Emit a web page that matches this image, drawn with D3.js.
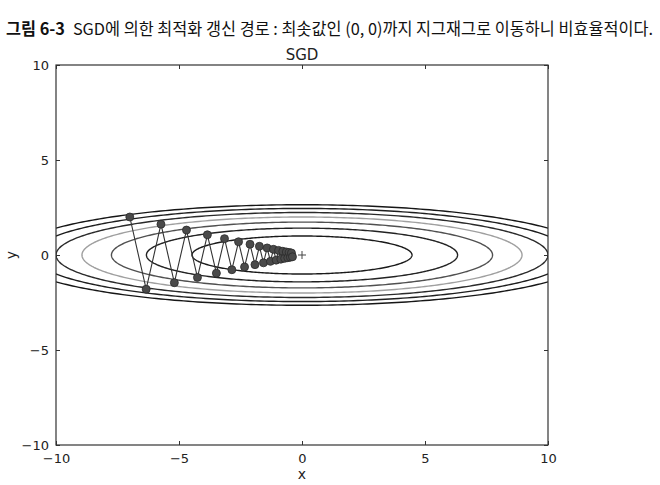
<!DOCTYPE html>
<html>
<head>
<meta charset="utf-8">
<script src="https://cdn.jsdelivr.net/npm/d3@7/dist/d3.min.js"></script>
<style>
  html, body { margin: 0; padding: 0; background: #fff; }
  svg { display: block; }
</style>
</head>
<body>
<svg id="chart" width="660" height="485"></svg>
<script>
// ---- data ----
const pathX = [-7, -6.335, -5.733, -5.189, -4.696, -4.250, -3.846, -3.480, -3.150, -2.851,
  -2.580, -2.335, -2.113, -1.912, -1.731, -1.566, -1.417, -1.283, -1.161, -1.051,
  -0.951, -0.860, -0.779, -0.705, -0.638, -0.577, -0.522, -0.473, -0.428, -0.387];
const pathY = [2, -1.8, 1.62, -1.458, 1.312, -1.181, 1.063, -0.957, 0.861, -0.775,
  0.697, -0.628, 0.565, -0.508, 0.458, -0.412, 0.371, -0.334, 0.300, -0.270,
  0.243, -0.219, 0.197, -0.177, 0.160, -0.144, 0.129, -0.116, 0.105, -0.094];
// contour levels of f(x,y) = x^2/20 + y^2 and the grey each prints in
const contourLevels = [1, 2, 3, 4, 5, 6, 7];
const contourGreys = ["#1a1a1a", "#222222", "#505050", "#a0a0a0", "#2a2a2a", "#1e1e1e", "#161616"];
const xTicks = [-10, -5, 0, 5, 10];
const yTicks = [-10, -5, 0, 5, 10];
const minimum = [0, 0];
const headerBold = "그림 6-3";
const headerText = "SGD에 의한 최적화 갱신 경로 : 최솟값인 (0, 0)까지 지그재그로 이동하니 비효율적이다.";
const chartTitle = "SGD";

// ---- layout ----
const svg = d3.select("#chart");
const L = 56, R = 548, T = 65, B = 445;
const x = d3.scaleLinear().domain([-10, 10]).range([L, R]);
const y = d3.scaleLinear().domain([-10, 10]).range([B, T]);
const fmt = d => (d < 0 ? "\u2212" + Math.abs(d) : String(d));

// header
const h = svg.append("text")
  .attr("x", 6).attr("y", 35)
  .attr("font-family", "'Noto Sans CJK KR', sans-serif")
  .attr("font-size", 16.5)
  .attr("fill", "#111")
  .attr("textLength", 647).attr("lengthAdjust", "spacingAndGlyphs");
h.append("tspan").attr("font-weight", "bold").text(headerBold);
h.append("tspan").attr("dx", 8).attr("font-weight", "normal").text(headerText);

// clip
svg.append("clipPath").attr("id", "plotclip")
  .append("rect").attr("x", L).attr("y", T).attr("width", R - L).attr("height", B - T);

const plot = svg.append("g").attr("clip-path", "url(#plotclip)");

// contours (ellipses x^2/20 + y^2 = c)
const thetas = d3.range(0, 361, 1).map(d => d * Math.PI / 180);
const line = d3.line().x(d => x(d[0])).y(d => y(d[1]));
contourLevels.forEach((c, i) => {
  const rx = Math.sqrt(20 * c), ry = Math.sqrt(c);
  const pts = thetas.map(t => [rx * Math.cos(t), ry * Math.sin(t)]);
  plot.append("path").attr("d", line(pts))
    .attr("fill", "none").attr("stroke", contourGreys[i]).attr("stroke-width", 1.4);
});

// path
const pts = pathX.map((d, i) => [d, pathY[i]]);
plot.append("path").attr("d", line(pts))
  .attr("fill", "none").attr("stroke", "#333").attr("stroke-width", 1.1);
plot.selectAll("circle.pt").data(pts).enter().append("circle")
  .attr("class", "pt")
  .attr("cx", d => x(d[0])).attr("cy", d => y(d[1])).attr("r", 4)
  .attr("fill", "#4a4a4a").attr("stroke", "#2a2a2a").attr("stroke-width", 0.8);

// minimum '+'
plot.append("path")
  .attr("d", `M${x(minimum[0]) - 4},${y(minimum[1])}H${x(minimum[0]) + 4}M${x(minimum[0])},${y(minimum[1]) - 4}V${y(minimum[1]) + 4}`)
  .attr("stroke", "#444").attr("stroke-width", 1);

// axes (ticks pointing inward on all four sides)
const tickFont = "'DejaVu Sans', sans-serif";
const axB = svg.append("g").attr("transform", `translate(0,${B})`)
  .call(d3.axisBottom(x).tickValues(xTicks).tickFormat(fmt).tickSizeInner(-4).tickSizeOuter(0).tickPadding(9));
const axT = svg.append("g").attr("transform", `translate(0,${T})`)
  .call(d3.axisTop(x).tickValues(xTicks).tickFormat("").tickSizeInner(-4).tickSizeOuter(0));
const axL = svg.append("g").attr("transform", `translate(${L},0)`)
  .call(d3.axisLeft(y).tickValues(yTicks).tickFormat(fmt).tickSizeInner(-4).tickSizeOuter(0).tickPadding(7));
const axR = svg.append("g").attr("transform", `translate(${R},0)`)
  .call(d3.axisRight(y).tickValues(yTicks).tickFormat("").tickSizeInner(-4).tickSizeOuter(0));
[axB, axT, axL, axR].forEach(a => {
  a.select(".domain").remove();
  a.selectAll("line").attr("stroke", "#333");
  a.selectAll("text").attr("font-family", tickFont).attr("font-size", 13).attr("fill", "#222");
});

// frame
svg.append("rect").attr("x", L).attr("y", T).attr("width", R - L).attr("height", B - T)
  .attr("fill", "none").attr("stroke", "#333").attr("stroke-width", 1.2);

// title and labels
svg.append("text").attr("x", (L + R) / 2).attr("y", 60).attr("text-anchor", "middle")
  .attr("font-family", tickFont).attr("font-size", 15).attr("fill", "#222").text(chartTitle);
svg.append("text").attr("x", (L + R) / 2).attr("y", 479).attr("text-anchor", "middle")
  .attr("font-family", tickFont).attr("font-size", 14).attr("fill", "#222").text("x");
svg.append("text").attr("transform", `translate(16,${y(0)}) rotate(-90)`).attr("text-anchor", "middle")
  .attr("font-family", tickFont).attr("font-size", 14).attr("fill", "#222").text("y");
</script>
</body>
</html>
